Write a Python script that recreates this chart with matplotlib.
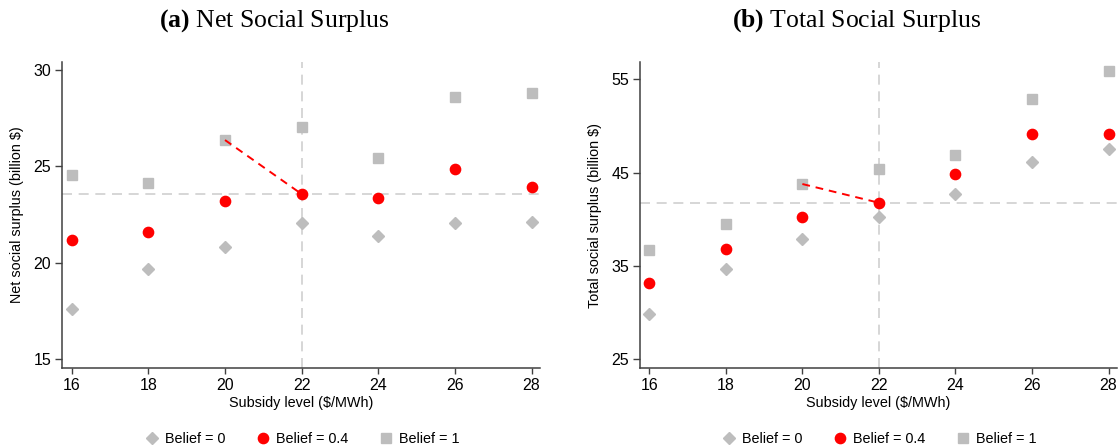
import numpy as np
import matplotlib.pyplot as plt
from matplotlib.lines import Line2D

# -------------------------------------------------
# DATA
# -------------------------------------------------
subsidy = [16, 18, 20, 22, 24, 26, 28]

# (a) net social surplus, billion $
net_b0 = [17.59, 19.67, 20.81, 22.07, 21.39, 22.05, 22.12]
net_b04 = [21.20, 21.62, 23.21, 23.57, 23.36, 24.85, 23.92]
net_b1 = [24.56, 24.16, 26.37, 27.04, 25.45, 28.60, 28.82]

# (b) total social surplus, billion $
tot_b0 = [29.85, 34.68, 37.87, 40.26, 42.73, 46.13, 47.55]
tot_b04 = [33.18, 36.76, 40.26, 41.76, 44.87, 49.16, 49.16]
tot_b1 = [36.69, 39.51, 43.77, 45.34, 46.88, 52.89, 55.92]

opt_subsidy = 22
prev_subsidy = 20

y_ticks_a = [15, 20, 25, 30]
y_ticks_b = [25, 35, 45, 55]

# -------------------------------------------------
# STYLE
# -------------------------------------------------
GRAY = "#bdbdbd"
REF = "#cfcfcf"
RED = "#ff0000"
AX = "#404040"
plt.rcParams["font.family"] = ["Liberation Sans", "DejaVu Sans"]
plt.rcParams["mathtext.fontset"] = "custom"
plt.rcParams["mathtext.rm"] = "Liberation Serif"
plt.rcParams["mathtext.bf"] = "Liberation Serif:bold"

fig = plt.figure(figsize=(11.19, 4.46), dpi=100)
ax_a = fig.add_axes([0.0557, 0.1742, 0.4269, 0.6874])
ax_b = fig.add_axes([0.5722, 0.1742, 0.4260, 0.6874])


def panel(ax, b0, b04, b1, yticks, ylim, ylabel, xlim):
    i_opt = subsidy.index(opt_subsidy)
    i_prev = subsidy.index(prev_subsidy)
    ax.axvline(opt_subsidy, color=REF, lw=1.2, ls=(0, (6, 4)), zorder=1)
    ax.axhline(b04[i_opt], color=REF, lw=1.2, ls=(0, (6, 4)), zorder=1)
    ax.plot(subsidy, b0, ls="none", marker="D", ms=6.2, color=GRAY, mec=GRAY, zorder=3)
    ax.plot(subsidy, b1, ls="none", marker="s", ms=7.2, color=GRAY, mec=GRAY, zorder=3)
    ax.plot([subsidy[i_prev], subsidy[i_opt]], [b1[i_prev], b04[i_opt]],
            color=RED, lw=1.4, ls=(0, (4, 3)), zorder=4)
    ax.plot(subsidy, b04, ls="none", marker="o", ms=7.4, color=RED, mec=RED, zorder=5)

    ax.set_xlim(*xlim)
    ax.set_ylim(*ylim)
    ax.set_xticks(subsidy)
    ax.set_yticks(yticks)
    ax.tick_params(axis="both", labelsize=11.5, colors="black", length=5, width=1, pad=3)
    ax.tick_params(axis="y", color=AX)
    ax.tick_params(axis="x", color=AX, length=4, pad=3)
    for s in ["top", "right"]:
        ax.spines[s].set_visible(False)
    for s in ["left", "bottom"]:
        ax.spines[s].set_color(AX)
        ax.spines[s].set_linewidth(1.1)
    ax.set_xlabel("Subsidy level ($/MWh)", fontsize=10.4, labelpad=2)
    ax.set_ylabel(ylabel, fontsize=10.4, labelpad=7)

    handles = [
        Line2D([], [], ls="none", marker="D", ms=6.2, color=GRAY, label="Belief = 0"),
        Line2D([], [], ls="none", marker="o", ms=7.4, color=RED, label="Belief = 0.4"),
        Line2D([], [], ls="none", marker="s", ms=7.2, color=GRAY, label="Belief = 1"),
    ]
    ax.legend(handles=handles, loc="upper center", bbox_to_anchor=(0.5, -0.165),
              ncol=3, frameon=False, fontsize=10.4, handletextpad=0.3,
              columnspacing=2.0, handlelength=1.2)


panel(ax_a, net_b0, net_b04, net_b1, y_ticks_a, (14.54, 30.43),
      "Net social surplus (billion $)", (15.755, 28.22))
panel(ax_b, tot_b0, tot_b04, tot_b1, y_ticks_b, (24.0, 56.89),
      "Total social surplus (billion $)", (15.765, 28.22))

# panel titles, centred on each panel incl. its y label
fig.text(274 / 1119, 1 - 27 / 446, r"$\bf{(a)}$ Net Social Surplus", fontsize=18.5,
         family="Liberation Serif", ha="center", va="baseline")
fig.text(857 / 1119, 1 - 27 / 446, r"$\bf{(b)}$ Total Social Surplus", fontsize=18.5,
         family="Liberation Serif", ha="center", va="baseline")

plt.savefig("out.png", dpi=100)
plt.close()
